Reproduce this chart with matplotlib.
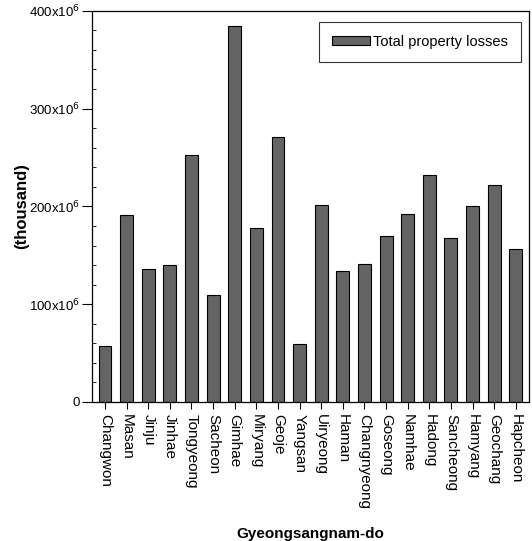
import numpy as np
import matplotlib.pyplot as plt
from matplotlib.ticker import MultipleLocator

plt.rcParams['font.family'] = ['Liberation Sans', 'DejaVu Sans']

regions = ['Changwon', 'Masan', 'Jinju', 'Jinhae', 'Tongyeong', 'Sacheon', 'Gimhae',
           'Miryang', 'Geoje', 'Yangsan', 'Uiryeong', 'Haman', 'Changnyeong', 'Goseong',
           'Namhae', 'Hadong', 'Sancheong', 'Hamyang', 'Geochang', 'Hapcheon']
# total property losses, in units of 10^6 thousand
losses = [57, 191, 136, 140, 253, 109, 384, 178, 271, 59,
          201, 134, 141, 170, 192, 232, 168, 200, 222, 156]
yticks = [0, 100, 200, 300, 400]
ylabels = ['0', r'100x10$^6$', r'200x10$^6$', r'300x10$^6$', r'400x10$^6$']

fig = plt.figure(figsize=(5.32, 5.41), dpi=100)
ax = fig.add_axes([0.173, 0.257, 0.821, 0.723])

x = np.arange(len(regions))
ax.bar(x, losses, width=0.6, color='#646464', edgecolor='black', linewidth=0.8,
       label='Total property losses')

ax.set_xlim(-0.6, len(regions) - 0.4)
ax.set_ylim(0, 400)
ax.set_yticks(yticks)
ax.set_yticklabels(ylabels, fontsize=9.5)
ax.yaxis.set_minor_locator(MultipleLocator(20))
ax.tick_params(axis='y', which='major', direction='out', length=7, width=0.8, pad=2)
ax.tick_params(axis='y', which='minor', direction='in', length=3, width=0.6)
ax.set_xticks(x)
ax.set_xticklabels(regions, rotation=270, fontsize=11)
ax.tick_params(axis='x', direction='out', length=5, width=0.8)

for s in ax.spines.values():
    s.set_linewidth(0.9)

ax.set_ylabel('(thousand)', fontsize=12, fontweight='bold')
ax.yaxis.set_label_coords(-0.145, 0.5)
ax.set_xlabel('Gyeongsangnam-do', fontsize=11, fontweight='bold', labelpad=13)

leg = ax.legend(loc='upper right', fontsize=10.5, frameon=True, fancybox=False,
                edgecolor='black', borderpad=0.9, handlelength=2.6, handleheight=0.6,
                handletextpad=0.2, borderaxespad=0, bbox_to_anchor=(0.982, 0.972))
leg.get_frame().set_linewidth(0.8)

fig.savefig('out.png', dpi=100)
